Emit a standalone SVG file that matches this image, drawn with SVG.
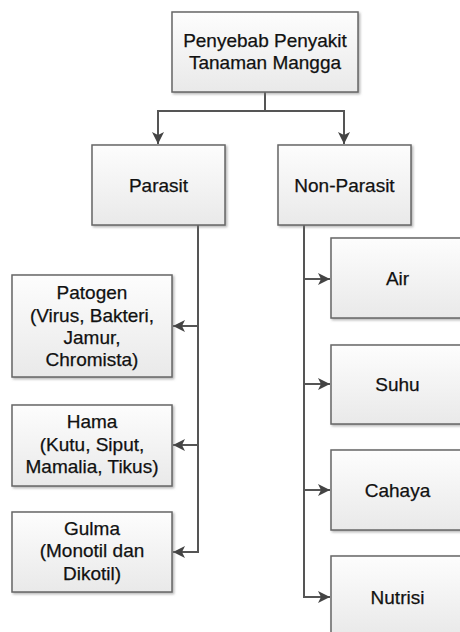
<svg xmlns="http://www.w3.org/2000/svg" width="460" height="632" viewBox="0 0 460 632">
<defs>
<linearGradient id="g" x1="0" y1="0" x2="0" y2="1">
<stop offset="0" stop-color="#fdfdfd"/>
<stop offset="1" stop-color="#e9e9e9"/>
</linearGradient>
<filter id="sh" x="-10%" y="-10%" width="120%" height="130%">
<feDropShadow dx="1.5" dy="1.5" stdDeviation="1" flood-color="#777" flood-opacity="0.55"/>
</filter>
<marker id="ar" markerUnits="userSpaceOnUse" markerWidth="12" markerHeight="12" viewBox="0 0 12 12" refX="12" refY="6" orient="auto">
<path d="M0,0 L12,6 L0,12 L3,6 Z" fill="#444"/>
</marker>
<style>
.b{fill:url(#g);stroke:#666;stroke-width:1.5;filter:url(#sh)}
.t{font-family:"Liberation Sans",Arial,sans-serif;font-size:19px;fill:#111;stroke:#111;stroke-width:0.25;text-anchor:middle}
.c{fill:none;stroke:#555;stroke-width:2}
</style>
</defs>
<rect width="460" height="632" fill="#fff"/>
<g id="connectors">
<path class="c" d="M265,92 V111 H158 V144" marker-end="url(#ar)"/>
<path class="c" d="M265,111 H344 V144" marker-end="url(#ar)"/>
<path class="c" d="M198,225 V552 H173" marker-end="url(#ar)"/>
<path class="c" d="M198,326 H173" marker-end="url(#ar)"/>
<path class="c" d="M198,445 H173" marker-end="url(#ar)"/>
<path class="c" d="M304,225 V597 H330" marker-end="url(#ar)"/>
<path class="c" d="M304,279 H330" marker-end="url(#ar)"/>
<path class="c" d="M304,384 H330" marker-end="url(#ar)"/>
<path class="c" d="M304,490 H330" marker-end="url(#ar)"/>
</g>
<g id="root">
<rect class="b" x="172" y="12" width="186" height="80"/>
<text class="t" x="265" y="47">Penyebab Penyakit</text>
<text class="t" x="265" y="69">Tanaman Mangga</text>
</g>
<g id="parasit">
<rect class="b" x="92" y="145" width="133" height="80"/>
<text class="t" x="158.5" y="192">Parasit</text>
</g>
<g id="nonparasit">
<rect class="b" x="278" y="145" width="133" height="80"/>
<text class="t" x="344.5" y="192">Non-Parasit</text>
</g>
<g id="patogen">
<rect class="b" x="12" y="275" width="160" height="102"/>
<text class="t" x="92" y="299">Patogen</text>
<text class="t" x="92" y="322">(Virus, Bakteri,</text>
<text class="t" x="92" y="344">Jamur,</text>
<text class="t" x="92" y="366">Chromista)</text>
</g>
<g id="hama">
<rect class="b" x="12" y="405" width="160" height="81"/>
<text class="t" x="92" y="428">Hama</text>
<text class="t" x="92" y="451">(Kutu, Siput,</text>
<text class="t" x="92" y="473">Mamalia, Tikus)</text>
</g>
<g id="gulma">
<rect class="b" x="12" y="512" width="160" height="80"/>
<text class="t" x="92" y="535">Gulma</text>
<text class="t" x="92" y="557">(Monotil dan</text>
<text class="t" x="92" y="580">Dikotil)</text>
</g>
<g id="air">
<rect class="b" x="331" y="238" width="133" height="80"/>
<text class="t" x="397.5" y="285">Air</text>
</g>
<g id="suhu">
<rect class="b" x="331" y="345" width="133" height="79"/>
<text class="t" x="397.5" y="391">Suhu</text>
</g>
<g id="cahaya">
<rect class="b" x="331" y="450" width="133" height="80"/>
<text class="t" x="397.5" y="497">Cahaya</text>
</g>
<g id="nutrisi">
<rect class="b" x="331" y="556" width="133" height="80"/>
<text class="t" x="397.5" y="604">Nutrisi</text>
</g>
</svg>
